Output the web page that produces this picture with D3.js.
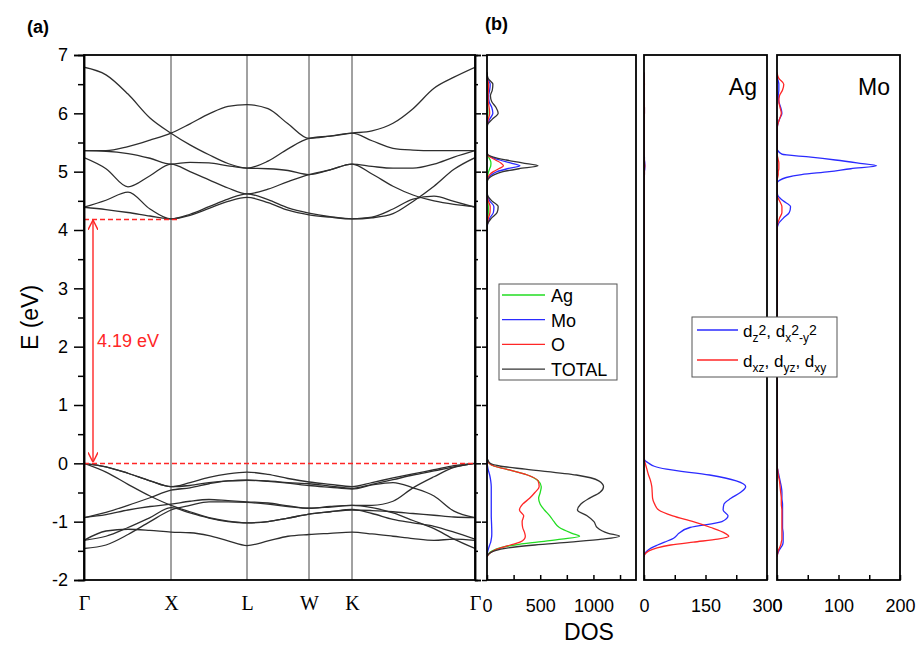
<!DOCTYPE html>
<html>
<head>
<meta charset="utf-8">
<script src="https://cdn.jsdelivr.net/npm/d3@7"></script>
<style>
  body { margin: 0; background: #fff; }
  text { font-family: "Liberation Sans", Arial, sans-serif; }
  .k-axis text { font-family: "Liberation Serif", "Times New Roman", serif; }
</style>
</head>
<body>
<svg id="chart" width="918" height="646"></svg>
<script>
// ---- band structure data ----
const kLabels = ['Γ', 'X', 'L', 'W', 'K', 'Γ'];
const kTicks = [0, 0.87, 1.63, 2.25, 2.68, 3.91];
const kGrid = [0, 0.22, 0.44, 0.66, 0.87, 1.06, 1.25, 1.44, 1.63, 1.84, 2.04, 2.25, 2.46, 2.68, 2.88, 3.09, 3.29, 3.50, 3.70, 3.91];

const condBands = [
  [6.79, 6.66, 6.33, 5.92, 5.66, 5.46, 5.29, 5.14, 5.06, 5.18, 5.39, 5.57, 5.61, 5.66, 5.70, 5.83, 6.08, 6.43, 6.62, 6.79],
  [5.36, 5.36, 5.43, 5.54, 5.66, 5.82, 5.99, 6.12, 6.15, 6.08, 5.82, 5.57, 5.61, 5.66, 5.53, 5.40, 5.37, 5.36, 5.36, 5.36],
  [5.36, 5.35, 5.31, 5.23, 5.13, 5.16, 5.15, 5.10, 5.06, 5.05, 5.02, 4.95, 5.03, 5.13, 5.09, 5.06, 5.06, 5.13, 5.25, 5.36],
  [5.24, 5.05, 4.74, 4.93, 5.13, 5.00, 4.86, 4.72, 4.62, 4.70, 4.83, 4.95, 5.03, 5.13, 4.96, 4.75, 4.60, 4.50, 4.44, 4.40],
  [4.39, 4.51, 4.65, 4.36, 4.19, 4.27, 4.40, 4.53, 4.62, 4.52, 4.38, 4.29, 4.23, 4.19, 4.21, 4.28, 4.49, 4.75, 5.04, 5.24],
  [4.39, 4.35, 4.30, 4.24, 4.19, 4.25, 4.37, 4.49, 4.56, 4.47, 4.34, 4.26, 4.22, 4.19, 4.22, 4.36, 4.53, 4.58, 4.49, 4.39]
];
const valBands = [
  [0, -0.06, -0.17, -0.30, -0.40, -0.33, -0.24, -0.18, -0.15, -0.19, -0.26, -0.32, -0.36, -0.40, -0.33, -0.25, -0.18, -0.11, -0.04, 0],
  [-0.93, -0.84, -0.72, -0.59, -0.46, -0.42, -0.35, -0.30, -0.29, -0.30, -0.33, -0.35, -0.39, -0.43, -0.36, -0.28, -0.20, -0.13, -0.06, 0],
  [0, -0.15, -0.36, -0.56, -0.72, -0.83, -0.93, -0.99, -1.02, -1.00, -0.94, -0.87, -0.83, -0.80, -0.81, -0.83, -0.86, -0.89, -0.92, -0.93],
  [0, -0.06, -0.17, -0.30, -0.40, -0.38, -0.33, -0.30, -0.29, -0.31, -0.34, -0.38, -0.41, -0.44, -0.37, -0.33, -0.42, -0.56, -0.82, -0.93],
  [-0.93, -0.88, -0.80, -0.74, -0.70, -0.65, -0.62, -0.64, -0.66, -0.68, -0.73, -0.77, -0.75, -0.72, -0.72, -0.65, -0.42, -0.23, -0.07, 0],
  [-1.32, -1.25, -1.10, -0.93, -0.76, -0.85, -0.94, -1.00, -1.02, -1.00, -0.94, -0.87, -0.83, -0.79, -0.86, -0.96, -1.02, -1.08, -1.18, -1.30],
  [-1.32, -1.16, -1.13, -1.15, -1.18, -1.19, -1.24, -1.33, -1.41, -1.33, -1.25, -1.22, -1.20, -1.18, -1.21, -1.25, -1.29, -1.32, -1.30, -1.32],
  [-1.46, -1.40, -1.22, -1.00, -0.80, -0.72, -0.66, -0.66, -0.67, -0.70, -0.74, -0.77, -0.74, -0.72, -0.76, -0.85, -0.98, -1.12, -1.30, -1.46]
];
const gapValue = 4.19;
const vbmLine = { e: 0, k0: 0, k1: 3.91 };
const cbmLine = { e: 4.19, k0: 0, k1: 0.96 };
const arrowK = 0.09;

// ---- DOS data (energy grid shared by every series) ----
const dosE = [-1.60, -1.55, -1.50, -1.45, -1.40, -1.35, -1.30, -1.25, -1.20, -1.10, -1.00, -0.90, -0.80, -0.70, -0.60, -0.50, -0.40, -0.30, -0.20, -0.10, -0.05, 0.00, 0.05, 0.10,
  4.00, 4.10, 4.20, 4.30, 4.40, 4.50, 4.60, 4.70,
  4.80, 4.85, 4.90, 4.95, 5.00, 5.05, 5.10, 5.15, 5.20, 5.25, 5.30, 5.40,
  5.60, 5.70, 5.80, 5.90, 6.00, 6.10, 6.20, 6.30, 6.40, 6.50, 6.60, 6.70];

const dosAg = [0, 15, 50, 120, 260, 470, 700, 870, 800, 680, 630, 590, 540, 500, 485, 500, 510, 480, 380, 180, 70, 20, 5, 0,
  0, 0, 5, 12, 12, 5, 0, 0,
  0, 0, 3, 8, 15, 25, 35, 37, 30, 15, 3, 0,
  0, 0, 0, 3, 8, 6, 3, 3, 5, 5, 1, 0];
const dosMo = [0, 2, 8, 16, 25, 35, 40, 44, 45, 44, 42, 40, 40, 40, 40, 40, 40, 35, 25, 10, 5, 2, 0, 0,
  0, 5, 25, 60, 65, 25, 3, 0,
  0, 2, 15, 45, 95, 190, 310, 220, 120, 40, 3, 0,
  0, 0, 3, 25, 55, 45, 20, 15, 25, 30, 5, 0];
const dosO = [0, 20, 60, 130, 220, 310, 350, 360, 355, 335, 330, 345, 305, 335, 400, 450, 490, 480, 380, 180, 70, 20, 5, 0,
  0, 3, 12, 28, 30, 12, 2, 0,
  0, 2, 8, 25, 60, 110, 155, 130, 80, 30, 3, 0,
  0, 0, 2, 12, 25, 20, 12, 10, 14, 15, 3, 0];
const dosTotal = [0, 20, 70, 200, 450, 780, 1080, 1245, 1140, 1035, 1005, 940, 850, 880, 960, 1060, 1095, 1050, 840, 360, 130, 30, 10, 0,
  0, 5, 40, 95, 105, 45, 5, 0,
  0, 5, 25, 70, 150, 300, 480, 330, 180, 60, 5, 0,
  0, 0, 5, 50, 105, 85, 45, 32, 50, 55, 10, 0];

const agEg = [0, 2, 8, 18, 33, 50, 68, 78, 85, 112, 190, 205, 193, 195, 212, 235, 248, 225, 160, 55, 25, 12, 2, 0,
  0, 0, 0, 0, 0, 0, 0, 0,
  0, 0, 0, 1, 1, 2, 2, 2, 1, 1, 0, 0,
  0, 0, 0, 0, 1, 1, 0, 0, 0, 0, 0, 0];
const agT2g = [0, 3, 12, 32, 65, 120, 180, 207, 198, 163, 120, 70, 36, 26, 21, 20, 19, 16, 11, 7, 5, 3, 1, 0,
  0, 0, 0, 0, 0, 0, 0, 0,
  0, 0, 0, 1, 1, 1, 2, 1, 1, 0, 0, 0,
  0, 0, 0, 0, 1, 1, 0, 0, 0, 1, 0, 0];
const moEg = [0, 1, 3, 6, 9, 10, 10, 10, 10, 9, 9, 9, 9, 9, 8, 8, 7, 5, 3, 1, 0, 0, 0, 0,
  0, 2, 10, 20, 22, 10, 1, 0,
  0, 4, 15, 40, 85, 120, 162, 130, 95, 55, 8, 0,
  0, 0, 1, 4, 8, 6, 3, 2, 3, 3, 1, 0];
const moT2g = [0, 1, 2, 4, 6, 7, 8, 8, 8, 8, 8, 8, 8, 7, 7, 6, 5, 4, 2, 1, 0, 0, 0, 0,
  0, 1, 4, 8, 8, 4, 0, 0,
  0, 0, 1, 2, 2, 3, 3, 3, 2, 1, 0, 0,
  0, 0, 1, 4, 7, 5, 3, 4, 9, 11, 3, 0];

const GREEN = '#22dd22', BLUE = '#2b2bff', RED = '#ff2626', BLACK = '#333';

const svg = d3.select('#chart');

// ---- panel (a): band structure ----
const bandX = d3.scaleLinear().domain([0, 3.91]).range([84, 475]);
const yE = d3.scaleLinear().domain([-2, 7]).range([580, 55]);

svg.append('clipPath').attr('id', 'bandClip')
  .append('rect').attr('x', bandX(0)).attr('y', yE(7))
  .attr('width', bandX(3.91) - bandX(0)).attr('height', yE(-2) - yE(7));

// symmetry lines
svg.append('g').selectAll('line')
  .data(kTicks.slice(1, -1))
  .enter().append('line')
  .attr('x1', d => bandX(d)).attr('x2', d => bandX(d))
  .attr('y1', yE(7)).attr('y2', yE(-2))
  .attr('stroke', '#444').attr('stroke-width', 1);

const bandLine = d3.line()
  .x((d, i) => bandX(kGrid[i]))
  .y(d => yE(d))
  .curve(d3.curveMonotoneX);

svg.append('g').attr('clip-path', 'url(#bandClip)')
  .selectAll('path')
  .data(condBands.concat(valBands))
  .enter().append('path')
  .attr('d', bandLine)
  .attr('fill', 'none')
  .attr('stroke', '#2e2e2e')
  .attr('stroke-width', 1.3);

// dashed band edges
svg.append('g').selectAll('line')
  .data([vbmLine, cbmLine])
  .enter().append('line')
  .attr('x1', d => bandX(d.k0)).attr('x2', d => bandX(d.k1))
  .attr('y1', d => Math.round(yE(d.e)) + 0.5).attr('y2', d => Math.round(yE(d.e)) + 0.5)
  .attr('stroke', RED).attr('stroke-width', 1.5)
  .attr('stroke-dasharray', '5,3');

// gap arrow
svg.append('defs').append('marker')
  .attr('id', 'head').attr('viewBox', '0 0 10 10')
  .attr('refX', 10).attr('refY', 5)
  .attr('markerWidth', 10).attr('markerHeight', 10)
  .attr('markerUnits', 'userSpaceOnUse')
  .attr('orient', 'auto-start-reverse')
  .append('path').attr('d', 'M0,0 L10,5 L0,10')
  .attr('fill', 'none').attr('stroke', RED).attr('stroke-width', 1.4);

svg.append('line')
  .attr('x1', bandX(arrowK)).attr('x2', bandX(arrowK))
  .attr('y1', yE(gapValue) + 1).attr('y2', yE(0) - 1)
  .attr('stroke', RED).attr('stroke-width', 1.4)
  .attr('marker-start', 'url(#head)').attr('marker-end', 'url(#head)');

svg.append('text')
  .attr('x', bandX(arrowK) + 4).attr('y', yE(gapValue / 2) + 6)
  .attr('fill', RED).attr('font-size', 18)
  .text(gapValue.toFixed(2) + ' eV');

// frame
svg.append('rect')
  .attr('x', bandX(0)).attr('y', yE(7))
  .attr('width', bandX(3.91) - bandX(0)).attr('height', yE(-2) - yE(7))
  .attr('fill', 'none').attr('stroke', '#000').attr('stroke-width', 1.8);

// y axes
const majorE = d3.range(-2, 7.01, 1);
const minorE = d3.range(-1.5, 7, 1);
const yAxisL = svg.append('g').attr('class', 'y-axis')
  .attr('transform', `translate(${bandX(0)},0)`)
  .call(d3.axisLeft(yE).tickValues(majorE).tickSize(10).tickPadding(6).tickFormat(d => String(d)));
svg.append('g').attr('class', 'y-axis')
  .attr('transform', `translate(${bandX(0)},0)`)
  .call(d3.axisLeft(yE).tickValues(minorE).tickSize(6).tickFormat(''));
svg.append('g').attr('class', 'y-axis')
  .attr('transform', `translate(${bandX(3.91)},0)`)
  .call(d3.axisRight(yE).tickValues(majorE).tickSize(6).tickFormat(''));
svg.append('g').attr('class', 'y-axis')
  .attr('transform', `translate(${bandX(3.91)},0)`)
  .call(d3.axisRight(yE).tickValues(minorE).tickSize(3).tickFormat(''));
yAxisL.selectAll('text').attr('font-size', 18);

// k labels
const kAxis = svg.append('g').attr('class', 'k-axis')
  .attr('transform', `translate(0,${yE(-2)})`)
  .call(d3.axisBottom(bandX).tickValues(kTicks).tickSize(0).tickPadding(16).tickFormat((d, i) => kLabels[i]));
kAxis.selectAll('text').attr('font-size', 20);

svg.append('text')
  .attr('transform', `translate(38,${yE(2.5)}) rotate(-90)`)
  .attr('text-anchor', 'middle').attr('font-size', 23)
  .text('E (eV)');

// ---- panel (b): DOS ----
const dosPanels = [
  { x0: 487, x1: 636, max: 1400, ticks: d3.range(0, 1251, 250), labels: [0, 500, 1000],
    series: [[dosAg, GREEN], [dosMo, BLUE], [dosO, RED], [dosTotal, BLACK]], leftTicks: true },
  { x0: 644, x1: 767, max: 300, ticks: d3.range(0, 301, 75), labels: [0, 150, 300],
    series: [[agEg, BLUE], [agT2g, RED]], title: 'Ag' },
  { x0: 777, x1: 900, max: 200, ticks: d3.range(0, 201, 50), labels: [0, 100, 200],
    series: [[moEg, BLUE], [moT2g, RED]], title: 'Mo' }
];

dosPanels.forEach((p, pi) => {
  const xs = d3.scaleLinear().domain([0, p.max]).range([p.x0, p.x1]);
  const g = svg.append('g');
  g.append('clipPath').attr('id', 'dosClip' + pi)
    .append('rect').attr('x', p.x0).attr('y', yE(7))
    .attr('width', p.x1 - p.x0).attr('height', yE(-2) - yE(7));

  const dosLine = d3.line()
    .x(d => xs(d[0]))
    .y(d => yE(d[1]))
    .curve(d3.curveMonotoneY);

  g.append('g').attr('clip-path', `url(#dosClip${pi})`)
    .selectAll('path')
    .data(p.series)
    .enter().append('path')
    .attr('d', s => dosLine(s[0].map((v, i) => [v, dosE[i]]).reverse()))
    .attr('fill', 'none')
    .attr('stroke', s => s[1])
    .attr('stroke-width', 1.3);

  g.append('rect')
    .attr('x', p.x0).attr('y', yE(7))
    .attr('width', p.x1 - p.x0).attr('height', yE(-2) - yE(7))
    .attr('fill', 'none').attr('stroke', '#000').attr('stroke-width', 1.8);

  const xAxis = g.append('g').attr('class', 'x-axis')
    .attr('transform', `translate(0,${yE(-2)})`)
    .call(d3.axisBottom(xs).tickValues(p.ticks).tickSizeInner(-5).tickSizeOuter(0).tickPadding(19)
      .tickFormat(d => p.labels.includes(d) ? String(d) : ''));
  xAxis.select('.domain').remove();
  xAxis.selectAll('text').attr('font-size', 18);

  if (p.leftTicks) {
    g.append('g').attr('class', 'y-axis')
      .attr('transform', `translate(${p.x0},0)`)
      .call(d3.axisLeft(yE).tickValues(majorE).tickSize(5).tickFormat(''))
      .select('.domain').remove();
  }

  if (p.title) {
    g.append('text')
      .attr('x', p.x1 - 10).attr('y', 95)
      .attr('text-anchor', 'end').attr('font-size', 23)
      .text(p.title);
  }
});

svg.selectAll('.x-axis line, .y-axis line, .y-axis path').attr('stroke', '#000').attr('stroke-width', 1.5);
svg.selectAll('.k-axis path').remove();

svg.append('text')
  .attr('x', 589).attr('y', 640)
  .attr('text-anchor', 'middle').attr('font-size', 23)
  .text('DOS');

// ---- legends ----
const legend1 = [['Ag', GREEN], ['Mo', BLUE], ['O', RED], ['TOTAL', BLACK]];
const lg1 = svg.append('g');
lg1.append('rect').attr('x', 499).attr('y', 284).attr('width', 118).attr('height', 96)
  .attr('fill', '#fff').attr('stroke', '#555').attr('stroke-width', 1);
legend1.forEach((d, i) => {
  const ly = 295 + i * 24.7;
  lg1.append('line').attr('x1', 502).attr('x2', 545).attr('y1', ly).attr('y2', ly)
    .attr('stroke', d[1]).attr('stroke-width', 1.3);
  lg1.append('text').attr('x', 551).attr('y', ly + 7).attr('font-size', 18).text(d[0]);
});

const lg2 = svg.append('g');
lg2.append('rect').attr('x', 692).attr('y', 317).attr('width', 145).attr('height', 60)
  .attr('fill', '#fff').attr('stroke', '#555').attr('stroke-width', 1);
[[330, BLUE], [360, RED]].forEach(d => {
  lg2.append('line').attr('x1', 697).attr('x2', 738).attr('y1', d[0]).attr('y2', d[0])
    .attr('stroke', d[1]).attr('stroke-width', 1.3);
});
// d_z2, d_x2-y2
const t1 = lg2.append('text').attr('x', 743).attr('y', 337).attr('font-size', 17);
[['d', 0, 17], ['z', 5, 12], ['2', -7, 14], [', d', 2, 17], ['x', 5, 12], ['2', -7, 14], ['-y', 7, 12], ['2', -7, 14]]
  .forEach(s => t1.append('tspan').attr('dy', s[1]).attr('font-size', s[2]).text(s[0]));
// d_xz, d_yz, d_xy
const t2 = lg2.append('text').attr('x', 743).attr('y', 367).attr('font-size', 17);
[['d', 0, 17], ['xz', 5, 12], [', d', -5, 17], ['yz', 5, 12], [', d', -5, 17], ['xy', 5, 12]]
  .forEach(s => t2.append('tspan').attr('dy', s[1]).attr('font-size', s[2]).text(s[0]));

// panel tags
svg.append('text').attr('x', 27).attr('y', 33).attr('font-size', 18).attr('font-weight', 'bold').text('(a)');
svg.append('text').attr('x', 485).attr('y', 30).attr('font-size', 18).attr('font-weight', 'bold').text('(b)');
</script>
</body>
</html>
